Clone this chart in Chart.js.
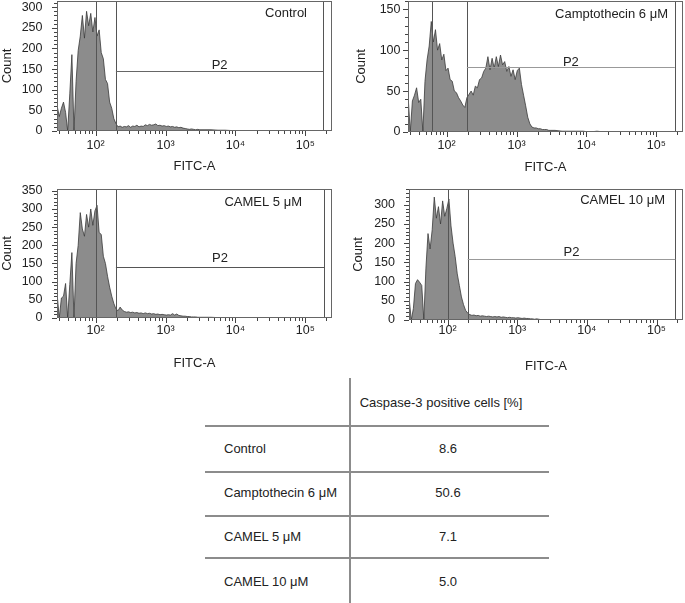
<!DOCTYPE html>
<html>
<head>
<meta charset="utf-8">
<script src="https://cdn.jsdelivr.net/npm/chart.js@4.4.1/dist/chart.umd.min.js"></script>
<style>
  body { margin: 0; background: #fff; }
  #page { position: relative; width: 685px; height: 603px; overflow: hidden; font-family: "Liberation Sans", Arial, sans-serif; color: #222; }
  #page canvas { position: absolute; }
  .cell { position: absolute; font-size: 13px; line-height: 16px; white-space: nowrap; }
  .hline { position: absolute; height: 1.5px; background: #8c8c8c; }
  .vline { position: absolute; width: 1.5px; background: #8c8c8c; }
</style>
</head>
<body>
<div id="page">
  <canvas id="c1" width="340" height="178" style="left:0;top:0"></canvas>
  <canvas id="c2" width="345" height="178" style="left:340px;top:0"></canvas>
  <canvas id="c3" width="340" height="197" style="left:0;top:178px"></canvas>
  <canvas id="c4" width="345" height="197" style="left:340px;top:178px"></canvas>
  <div id="table"></div>
</div>
<script>
// histogram bins, log10 of FITC-A (fine bins up to 10^3.5, coarse after that)
const binExp = [1.45, 1.48, 1.51, 1.54, 1.57, 1.60, 1.63, 1.66, 1.69, 1.72,
  1.75, 1.78, 1.81, 1.84, 1.87, 1.90, 1.93, 1.96, 1.99, 2.02,
  2.05, 2.08, 2.11, 2.14, 2.17, 2.20, 2.23, 2.26, 2.29, 2.32,
  2.35, 2.38, 2.41, 2.44, 2.47, 2.50, 2.53, 2.56, 2.59, 2.62,
  2.65, 2.68, 2.71, 2.74, 2.77, 2.80, 2.83, 2.86, 2.89, 2.92,
  2.95, 2.98, 3.01, 3.04, 3.07, 3.10, 3.13, 3.16, 3.19, 3.22,
  3.25, 3.28, 3.31, 3.34, 3.37, 3.40, 3.43, 3.46, 3.49,
  3.55, 3.65, 3.75, 3.85, 3.95, 4.05, 4.15, 4.25, 4.35, 4.45,
  4.55, 4.65, 4.75, 4.85, 4.95, 5.05, 5.15, 5.25, 5.35];

// counts per bin
const ctrlCounts = [60, 35, 55, 70, 45, 0, 90, 185, 0, 120,
  195, 230, 280, 225, 290, 255, 285, 240, 275, 230,
  245, 190, 175, 125, 115, 70, 55, 30, 18, 10,
  12, 9, 11, 10, 13, 9, 12, 11, 14, 10,
  12, 11, 15, 13, 16, 14, 15, 17, 13, 14,
  12, 13, 11, 12, 10, 11, 9, 10, 8, 9,
  7, 6, 5, 4, 5, 4, 3, 4, 3,
  3, 3, 2, 2, 1, 1, 1, 0, 0, 0,
  0, 0, 0, 0, 0, 0, 0, 0, 0];
const campCounts = [42, 0, 38, 45, 54, 36, 40, 0, 62, 88,
  105, 135, 110, 125, 100, 108, 88, 95, 75, 78,
  64, 62, 50, 48, 42, 38, 33, 30, 42, 46,
  50, 45, 56, 54, 64, 66, 74, 78, 92, 76,
  90, 78, 92, 80, 94, 82, 86, 74, 80, 68,
  76, 64, 75, 78, 58, 45, 32, 18, 10, 6,
  5, 5, 4, 4, 3, 3, 3, 2, 2,
  2, 1, 1, 1, 1, 0, 1, 0, 0, 0,
  0, 0, 0, 0, 0, 0, 0, 0, 0];
const camel5Counts = [64, 0, 55, 60, 95, 0, 92, 180, 0, 150,
  200, 290, 245, 225, 285, 250, 300, 255, 295, 310,
  235, 230, 170, 150, 115, 85, 60, 40, 25, 20,
  30, 22, 18, 16, 17, 15, 16, 14, 15, 13,
  14, 12, 14, 12, 13, 11, 12, 10, 11, 9,
  10, 9, 8, 9, 8, 12, 8, 11, 7, 6,
  5, 5, 4, 4, 3, 3, 3, 2, 2,
  2, 2, 1, 1, 1, 0, 0, 0, 0, 0,
  0, 0, 0, 0, 0, 0, 0, 0, 0];
const camel10Counts = [55, 0, 30, 95, 105, 98, 90, 0, 135, 225,
  185, 235, 320, 265, 295, 250, 310, 270, 290, 315,
  245, 200, 165, 120, 90, 60, 40, 25, 18, 14,
  12, 13, 11, 12, 10, 11, 10, 9, 10, 9,
  8, 9, 8, 9, 7, 8, 7, 6, 7, 6,
  6, 5, 6, 5, 4, 5, 4, 4, 3, 3,
  2, 3, 2, 1, 1, 1, 1, 1, 0,
  1, 0, 0, 0, 0, 0, 0, 0, 0, 0,
  0, 0, 0, 0, 0, 0, 0, 0, 0];

const panelNames = ['Control', 'Camptothecin 6 μM', 'CAMEL 5 μM', 'CAMEL 10 μM'];
const gateLow = [195, 195, 195, 195];
const gateHigh = [180000, 183000, 185000, 186000];
const gateLevel = [146, 80, 141, 159];
const markerX = [100, 61, 100, 100];
const yMax = [315, 160, 355, 341];
const yTicks = [[0, 50, 100, 150, 200, 250, 300], [0, 50, 100, 150],
  [0, 50, 100, 150, 200, 250, 300, 350], [0, 50, 100, 150, 200, 250, 300]];
const xTicks = [100, 1000, 10000, 100000];
const xTickLabels = ['10²', '10³', '10⁴', '10⁵'];

const tableHeader = 'Caspase-3 positive cells [%]';
const tableRows = ['Control', 'Camptothecin 6 μM', 'CAMEL 5 μM', 'CAMEL 10 μM'];
const caspasePct = ['8.6', '50.6', '7.1', '5.0'];

const seriesList = [ctrlCounts, campCounts, camel5Counts, camel10Counts];
const fitcBins = binExp.map(e => Math.pow(10, e));

// per panel layout (pixels)
const layouts = [
  { id: 'c1', top: 1, right: 8, yW: 57, xH: 47, yPad: 14.5, countPad: 0, xPad: 7, fitcPad: 4.2, tRight: 25, tDy: 12.5, p2Gap: 2.4, hCol: '#666' },
  { id: 'c2', top: 1, right: 2, yW: 68, xH: 46, yPad: 7.5, countPad: 14, xPad: 6.5, fitcPad: 3.2, tRight: 15, tDy: 13, p2Gap: 1.5, hCol: '#999' },
  { id: 'c3', top: 11, right: 8, yW: 57, xH: 57, yPad: 14.5, countPad: 0, xPad: 5.5, fitcPad: 4.2, tRight: 30, tDy: 13, p2Gap: 6, hCol: '#555' },
  { id: 'c4', top: 11, right: 2, yW: 69, xH: 55, yPad: 14, countPad: 11, xPad: 3.5, fitcPad: 1.2, tRight: 18, tDy: 11, p2Gap: 4, hCol: '#999' }
];

const FONT = '"Liberation Sans", Arial, sans-serif';

// box, tick marks, gate P2 and panel name
const facsDeco = {
  id: 'facsDeco',
  afterDatasetsDraw(chart, args, o) {
    const { ctx, chartArea: a, scales: { x, y } } = chart;
    ctx.save();
    ctx.lineWidth = 1;
    ctx.strokeStyle = '#444';
    ctx.beginPath();
    for (let k = 1; k <= 5; k++) {
      for (let m = 1; m <= 9; m++) {
        const v = m * Math.pow(10, k);
        if (v < x.min || v > x.max) continue;
        const px = Math.round(x.getPixelForValue(v)) + 0.5;
        ctx.moveTo(px, a.bottom);
        ctx.lineTo(px, a.bottom + (m === 1 ? 5 : 3));
      }
    }
    for (let v = 0; v <= y.max; v += 10) {
      const py = Math.round(y.getPixelForValue(v)) + 0.5;
      ctx.moveTo(a.left, py);
      ctx.lineTo(a.left - (v % 50 === 0 ? 5 : 3), py);
    }
    ctx.stroke();

    // marker and gate verticals
    ctx.strokeStyle = '#555';
    ctx.beginPath();
    [o.marker, o.low, o.high].forEach(v => {
      const px = Math.round(x.getPixelForValue(v)) + 0.5;
      ctx.moveTo(px, a.top);
      ctx.lineTo(px, a.bottom);
    });
    ctx.stroke();
    const xl = x.getPixelForValue(o.low), xh = x.getPixelForValue(o.high);
    const yl = Math.round(y.getPixelForValue(o.level)) + 0.5;
    ctx.strokeStyle = o.hCol;
    ctx.beginPath();
    ctx.moveTo(xl, yl);
    ctx.lineTo(xh, yl);
    ctx.stroke();

    // frame
    ctx.strokeStyle = '#666';
    ctx.strokeRect(Math.round(a.left) + 0.5, Math.round(a.top) + 0.5,
      Math.round(a.width) - 1, Math.round(a.height) - 1);

    ctx.fillStyle = '#222';
    ctx.font = '13px ' + FONT;
    ctx.textAlign = 'center';
    ctx.textBaseline = 'alphabetic';
    ctx.fillText('P2', (xl + xh) / 2, yl - o.p2Gap);
    ctx.textAlign = 'right';
    ctx.textBaseline = 'middle';
    ctx.fillText(o.name, a.right - o.tRight, a.top + o.tDy);
    ctx.restore();
  }
};

layouts.forEach((L, i) => {
  const counts = seriesList[i];
  new Chart(document.getElementById(L.id), {
    type: 'line',
    data: {
      datasets: [{
        data: fitcBins.map((v, j) => ({ x: v, y: counts[j] })),
        borderColor: '#3a3a3a',
        borderWidth: 0.8,
        backgroundColor: '#8c8c8c',
        fill: 'origin',
        pointRadius: 0,
        tension: 0
      }]
    },
    options: {
      responsive: false,
      animation: false,
      events: [],
      layout: { padding: { left: 0, top: L.top, right: L.right, bottom: 0 } },
      plugins: {
        legend: { display: false },
        tooltip: { enabled: false },
        facsDeco: {
          name: panelNames[i], low: gateLow[i], high: gateHigh[i], level: gateLevel[i],
          marker: markerX[i], tRight: L.tRight, tDy: L.tDy, p2Gap: L.p2Gap, hCol: L.hCol
        }
      },
      scales: {
        x: {
          type: 'logarithmic',
          min: 28,
          max: 240000,
          grid: { display: false, drawTicks: false },
          border: { display: false },
          afterBuildTicks: s => { s.ticks = xTicks.map(v => ({ value: v })); },
          afterFit: s => { s.height = L.xH; s.paddingLeft = 0; s.paddingRight = 0; },
          ticks: {
            autoSkip: false, maxRotation: 0, padding: L.xPad, color: '#222',
            font: { family: FONT, size: 12.5 },
            callback: v => xTickLabels[xTicks.indexOf(v)]
          },
          title: {
            display: true, text: 'FITC-A', color: '#222',
            font: { family: FONT, size: 13 },
            padding: { top: 0, bottom: L.fitcPad }
          }
        },
        y: {
          min: 0,
          max: yMax[i],
          grid: { display: false, drawTicks: false },
          border: { display: false },
          afterBuildTicks: s => { s.ticks = yTicks[i].map(v => ({ value: v })); },
          afterFit: s => { s.width = L.yW; s.paddingTop = 0; s.paddingBottom = 0; },
          ticks: { padding: L.yPad, color: '#222', font: { family: FONT, size: 12.5 } },
          title: {
            display: true, text: 'Count', color: '#222',
            font: { family: FONT, size: 13 },
            padding: { top: L.countPad, bottom: 0 }
          }
        }
      }
    },
    plugins: [facsDeco]
  });
});

// table under the histograms
const tbl = document.getElementById('table');
const add = (cls, css, text) => {
  const d = document.createElement('div');
  d.className = cls;
  d.style.cssText = css;
  if (text) d.textContent = text;
  tbl.appendChild(d);
};
add('vline', 'left:349px;top:378px;height:225px');
[425, 471, 515, 557].forEach(t => add('hline', 'left:205px;width:344px;top:' + t + 'px'));
add('cell', 'left:441px;top:395px;transform:translateX(-50%)', tableHeader);
const rowY = [449, 493, 537, 582];
tableRows.forEach((r, i) => {
  add('cell', 'left:224px;top:' + (rowY[i] - 8) + 'px', r);
  add('cell', 'left:448px;top:' + (rowY[i] - 8) + 'px;transform:translateX(-50%)', caspasePct[i]);
});
</script>
</body>
</html>
